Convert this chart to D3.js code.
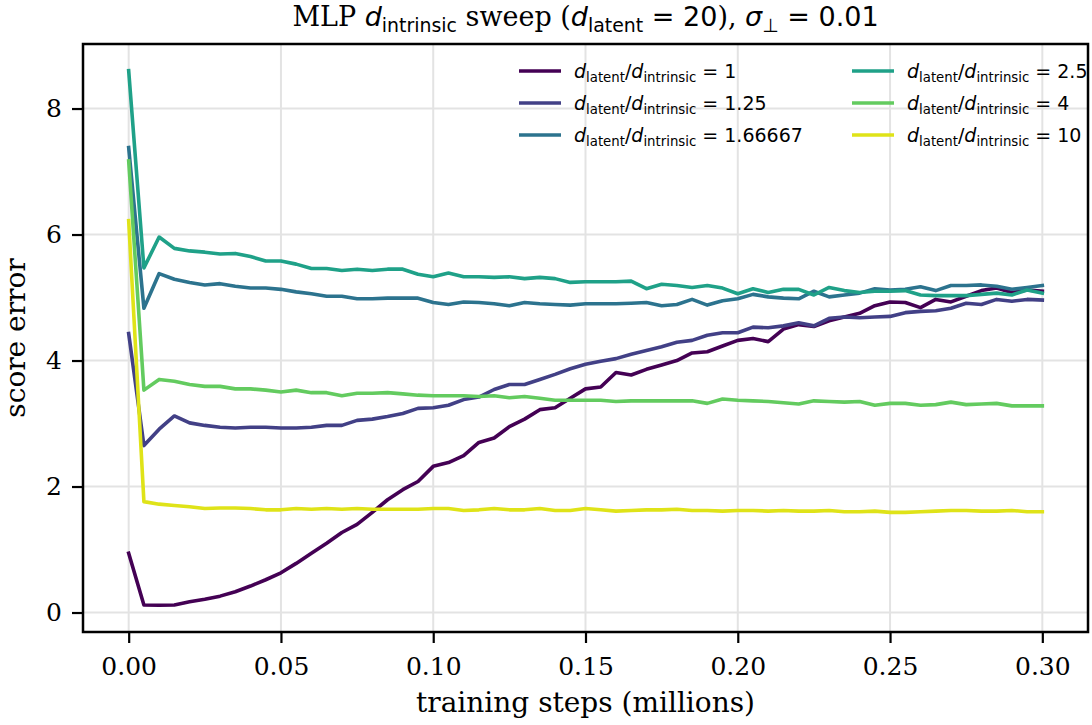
<!DOCTYPE html>
<html>
<head>
<meta charset="utf-8">
<script src="https://cdn.jsdelivr.net/npm/d3@7/dist/d3.min.js"></script>
<style>
  html, body { margin: 0; padding: 0; background: #fff; }
  svg text { white-space: pre; }
</style>
</head>
<body>
<svg id="chart" width="1092" height="725"></svg>
<script>
// Training steps (millions), one checkpoint every 5k steps
const steps = [0, 0.005, 0.01, 0.015, 0.02, 0.025, 0.03, 0.035, 0.04, 0.045,
  0.05, 0.055, 0.06, 0.065, 0.07, 0.075, 0.08, 0.085, 0.09, 0.095,
  0.10, 0.105, 0.11, 0.115, 0.12, 0.125, 0.13, 0.135, 0.14, 0.145,
  0.15, 0.155, 0.16, 0.165, 0.17, 0.175, 0.18, 0.185, 0.19, 0.195,
  0.20, 0.205, 0.21, 0.215, 0.22, 0.225, 0.23, 0.235, 0.24, 0.245,
  0.25, 0.255, 0.26, 0.265, 0.27, 0.275, 0.28, 0.285, 0.29, 0.295, 0.30];

// Ratio labels d_latent / d_intrinsic
const ratios = ["1", "1.25", "1.66667", "2.5", "4", "10"];

// Score error per ratio
const errRatio1 = [0.94, 0.12, 0.115, 0.12, 0.17, 0.21, 0.26, 0.33, 0.42, 0.52,
  0.63, 0.78, 0.94, 1.10, 1.27, 1.40, 1.59, 1.79, 1.95, 2.08,
  2.32, 2.38, 2.49, 2.70, 2.77, 2.95, 3.07, 3.22, 3.25, 3.40,
  3.55, 3.58, 3.81, 3.77, 3.86, 3.93, 4.00, 4.12, 4.14, 4.23,
  4.32, 4.35, 4.30, 4.50, 4.57, 4.54, 4.63, 4.69, 4.75, 4.87,
  4.93, 4.92, 4.84, 4.97, 4.93, 5.02, 5.11, 5.15, 5.08, 5.12, 5.10];
const errRatio125 = [4.43, 2.65, 2.91, 3.12, 3.01, 2.97, 2.94, 2.93, 2.94, 2.94,
  2.93, 2.93, 2.94, 2.97, 2.97, 3.05, 3.07, 3.11, 3.16, 3.24,
  3.25, 3.29, 3.38, 3.42, 3.54, 3.62, 3.62, 3.70, 3.78, 3.87,
  3.94, 3.99, 4.03, 4.10, 4.16, 4.22, 4.29, 4.32, 4.40, 4.44,
  4.44, 4.53, 4.52, 4.55, 4.60, 4.55, 4.67, 4.69, 4.68, 4.69,
  4.70, 4.76, 4.78, 4.79, 4.83, 4.91, 4.89, 4.97, 4.94, 4.97, 4.96];
const errRatio167 = [7.38, 4.83, 5.38, 5.29, 5.24, 5.20, 5.22, 5.18, 5.15, 5.15,
  5.13, 5.09, 5.06, 5.02, 5.02, 4.98, 4.98, 4.99, 4.99, 4.99,
  4.92, 4.89, 4.93, 4.92, 4.90, 4.87, 4.92, 4.90, 4.89, 4.88,
  4.90, 4.90, 4.90, 4.91, 4.92, 4.87, 4.89, 4.97, 4.88, 4.95,
  4.98, 5.05, 5.01, 4.99, 4.98, 5.10, 5.01, 5.04, 5.07, 5.14,
  5.12, 5.13, 5.17, 5.11, 5.19, 5.19, 5.20, 5.18, 5.13, 5.16, 5.19];
const errRatio25 = [8.60, 5.47, 5.96, 5.78, 5.74, 5.72, 5.69, 5.70, 5.65, 5.58,
  5.58, 5.53, 5.46, 5.46, 5.43, 5.45, 5.43, 5.45, 5.45, 5.37,
  5.33, 5.39, 5.33, 5.33, 5.32, 5.33, 5.30, 5.32, 5.30, 5.24,
  5.25, 5.25, 5.25, 5.26, 5.14, 5.21, 5.19, 5.16, 5.19, 5.15,
  5.06, 5.14, 5.08, 5.13, 5.13, 5.04, 5.16, 5.11, 5.08, 5.10,
  5.10, 5.11, 5.04, 5.03, 5.03, 5.03, 5.05, 5.07, 5.04, 5.12, 5.07];
const errRatio4 = [7.17, 3.53, 3.70, 3.67, 3.62, 3.59, 3.59, 3.55, 3.55, 3.53,
  3.50, 3.53, 3.49, 3.49, 3.44, 3.48, 3.48, 3.49, 3.47, 3.45,
  3.44, 3.44, 3.44, 3.43, 3.44, 3.41, 3.43, 3.40, 3.37, 3.37,
  3.37, 3.37, 3.35, 3.36, 3.36, 3.36, 3.36, 3.36, 3.32, 3.39,
  3.37, 3.36, 3.35, 3.33, 3.31, 3.36, 3.35, 3.34, 3.35, 3.29,
  3.32, 3.32, 3.29, 3.30, 3.34, 3.30, 3.31, 3.32, 3.28, 3.28, 3.28];
const errRatio10 = [6.22, 1.76, 1.72, 1.70, 1.68, 1.65, 1.66, 1.66, 1.65, 1.63,
  1.63, 1.65, 1.64, 1.65, 1.64, 1.65, 1.64, 1.64, 1.64, 1.64,
  1.65, 1.65, 1.62, 1.63, 1.65, 1.63, 1.63, 1.65, 1.62, 1.62,
  1.65, 1.63, 1.61, 1.62, 1.63, 1.63, 1.64, 1.62, 1.62, 1.61,
  1.62, 1.62, 1.61, 1.62, 1.61, 1.61, 1.62, 1.60, 1.60, 1.61,
  1.59, 1.59, 1.60, 1.61, 1.62, 1.62, 1.61, 1.61, 1.62, 1.60, 1.60];

const xTicks = [0, 0.05, 0.10, 0.15, 0.20, 0.25, 0.30];
const yTicks = [0, 2, 4, 6, 8];

const seriesValues = [errRatio1, errRatio125, errRatio167, errRatio25, errRatio4, errRatio10];

// viridis samples, evenly spaced over [0, 0.95]
const colorPos = [0, 0.19, 0.38, 0.57, 0.76, 0.95];
const colors = colorPos.map(t => d3.interpolateViridis(t));

const SERIF = "'DejaVu Serif', serif";
const SANS = "'DejaVu Sans', sans-serif";

const svg = d3.select("#chart");
const margin = { left: 83, right: 1088, top: 44, bottom: 632 };

const allVals = seriesValues.flat();
const yMin = d3.min(allVals), yMax = d3.max(allVals);
const yPad = (yMax - yMin) * 0.05;
const xPad = 0.3 * 0.05;

const x = d3.scaleLinear().domain([0 - xPad, 0.3 + xPad]).range([margin.left, margin.right]);
const y = d3.scaleLinear().domain([yMin - yPad, yMax + yPad]).range([margin.bottom, margin.top]);

// grid
const grid = svg.append("g");
grid.selectAll("line.gx").data(xTicks).join("line")
  .attr("x1", d => x(d)).attr("x2", d => x(d))
  .attr("y1", margin.top).attr("y2", margin.bottom)
  .attr("stroke", "#e3e3e3").attr("stroke-width", 2);
grid.selectAll("line.gy").data(yTicks).join("line")
  .attr("y1", d => y(d)).attr("y2", d => y(d))
  .attr("x1", margin.left).attr("x2", margin.right)
  .attr("stroke", "#e3e3e3").attr("stroke-width", 2);

// series lines
const line = d3.line().x((d, i) => x(steps[i])).y(d => y(d));
const clipId = "plotclip";
svg.append("clipPath").attr("id", clipId).append("rect")
  .attr("x", margin.left).attr("y", margin.top)
  .attr("width", margin.right - margin.left).attr("height", margin.bottom - margin.top);
svg.append("g").attr("clip-path", `url(#${clipId})`)
  .selectAll("path").data(seriesValues).join("path")
  .attr("d", d => line(d))
  .attr("fill", "none")
  .attr("stroke", (d, i) => colors[i])
  .attr("stroke-width", 3.6)
  .attr("stroke-linejoin", "round")
  .attr("stroke-linecap", "square");

// axes
const xAxis = d3.axisBottom(x).tickValues(xTicks).tickFormat(d3.format(".2f")).tickSize(11).tickPadding(14);
const yAxis = d3.axisLeft(y).tickValues(yTicks).tickFormat(d3.format("d")).tickSize(11).tickPadding(10);

const gx = svg.append("g").attr("transform", `translate(0,${margin.bottom})`).call(xAxis);
const gy = svg.append("g").attr("transform", `translate(${margin.left},0)`).call(yAxis);
[gx, gy].forEach(g => {
  g.select(".domain").remove();
  g.selectAll(".tick line").attr("stroke", "#000").attr("stroke-width", 2.2);
  g.selectAll(".tick text").attr("font-family", SERIF).attr("font-size", 25).attr("fill", "#000");
});

// frame
svg.append("rect")
  .attr("x", margin.left).attr("y", margin.top)
  .attr("width", margin.right - margin.left).attr("height", margin.bottom - margin.top)
  .attr("fill", "none").attr("stroke", "#000").attr("stroke-width", 2.5);

// axis labels
svg.append("text")
  .attr("x", (margin.left + margin.right) / 2).attr("y", 712)
  .attr("text-anchor", "middle").attr("font-family", SERIF).attr("font-size", 28)
  .text("training steps (millions)");
svg.append("text")
  .attr("transform", `translate(25,${(margin.top + margin.bottom) / 2}) rotate(-90)`)
  .attr("text-anchor", "middle").attr("font-family", SERIF).attr("font-size", 28)
  .text("score error");

// mixed text/math runs
function rich(textSel, parts, size) {
  let shift = 0;
  parts.forEach(p => {
    const ts = textSel.append("tspan").text(p.t);
    const target = p.k === "sub" ? size * 0.22 : 0;
    if (target !== shift) ts.attr("dy", target - shift);
    shift = target;
    if (p.k === "serif") ts.attr("font-family", SERIF).attr("font-size", size);
    else if (p.k === "sans") ts.attr("font-family", SANS).attr("font-size", size);
    else if (p.k === "ital") ts.attr("font-family", SANS).attr("font-style", "italic").attr("font-size", size);
    else if (p.k === "sub") ts.attr("font-family", SANS).attr("font-size", size * 0.7);
  });
}

// title
const title = svg.append("text")
  .attr("x", (margin.left + margin.right) / 2).attr("y", 26)
  .attr("text-anchor", "middle").attr("fill", "#000");
rich(title, [
  { t: "MLP ", k: "serif" }, { t: "d", k: "ital" }, { t: "intrinsic", k: "sub" },
  { t: " sweep (", k: "serif" }, { t: "d", k: "ital" }, { t: "latent", k: "sub" },
  { t: " = 20", k: "sans" }, { t: "), ", k: "serif" }, { t: "σ", k: "ital" },
  { t: "⊥", k: "sub" }, { t: " = 0.01", k: "sans" }
], 27);

// legend, two columns of three
const legend = svg.append("g");
const legendRows = 3;
const colX = [519, 852];
const rowY = [71, 103, 135];
ratios.forEach((r, i) => {
  const col = Math.floor(i / legendRows), row = i % legendRows;
  const g = legend.append("g").attr("transform", `translate(${colX[col]},${rowY[row]})`);
  g.append("line").attr("x1", 0).attr("x2", 42).attr("y1", 0).attr("y2", 0)
    .attr("stroke", colors[i]).attr("stroke-width", 3.6).attr("stroke-linecap", "butt");
  const t = g.append("text").attr("x", 55).attr("y", 7).attr("fill", "#000");
  rich(t, [
    { t: "d", k: "ital" }, { t: "latent", k: "sub" }, { t: "/", k: "sans" },
    { t: "d", k: "ital" }, { t: "intrinsic", k: "sub" }, { t: " = " + r, k: "sans" }
  ], 19);
});
</script>
</body>
</html>
